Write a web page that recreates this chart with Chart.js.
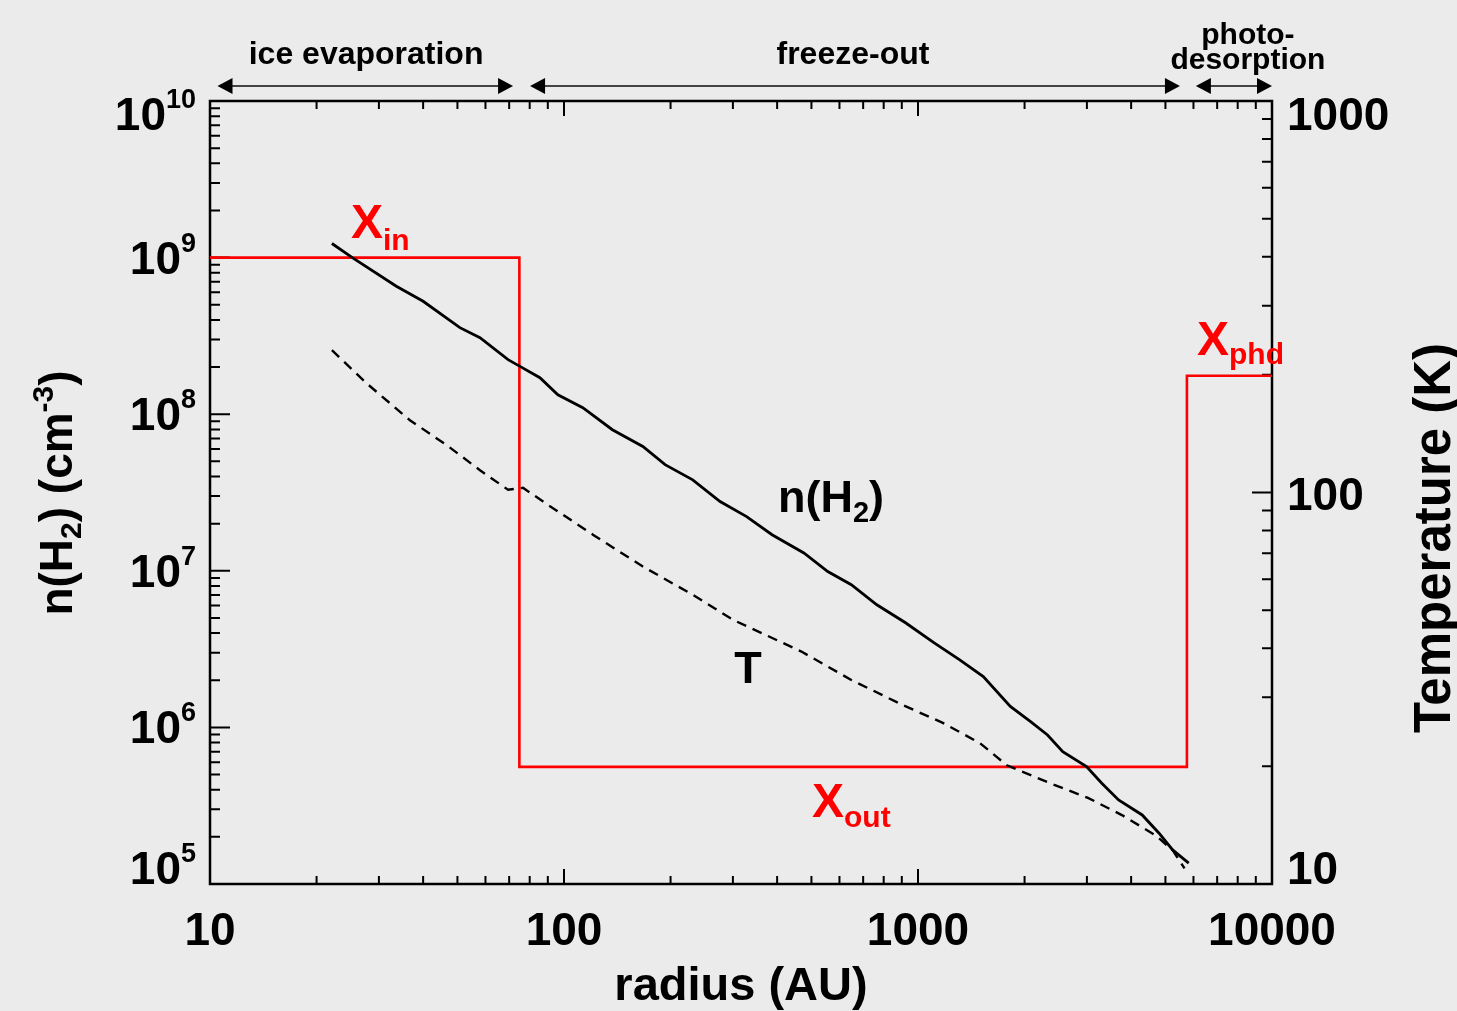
<!DOCTYPE html>
<html>
<head>
<meta charset="utf-8">
<title>n(H2) and temperature versus radius</title>
<script src="https://cdn.jsdelivr.net/npm/chart.js@4.4.1/dist/chart.umd.min.js"></script>
<style>
  html, body { margin: 0; padding: 0; background: #ebebec; }
  #wrap { width: 1457px; height: 1011px; position: relative; }
</style>
</head>
<body>
<div id="wrap"><canvas id="chart"></canvas></div>
<script>
// solid curve: radius (AU) -> n(H2) (cm^-3)
const densityRadius = [22.1, 25.3, 33.6, 40.0, 50.8, 57.9, 69.5, 75.1, 85.5, 96.1, 113, 137, 167, 193, 231,
  276, 328, 387, 476, 556, 648, 765, 922, 1111, 1312, 1529, 1823, 2080, 2322, 2564, 2992, 3305, 3686,
  4298, 4797, 5240, 5817];
const densityValues = [1.23e9, 9.96e8, 6.56e8, 5.26e8, 3.57e8, 3.08e8, 2.23e8, 2.02e8, 1.71e8, 1.33e8,
  1.10e8, 7.96e7, 6.22e7, 4.76e7, 3.81e7, 2.77e7, 2.22e7, 1.70e7, 1.30e7, 9.9e6, 8.15e6, 6.07e6, 4.66e6,
  3.47e6, 2.70e6, 2.11e6, 1.36e6, 1.09e6, 8.95e5, 7.0e5, 5.62e5, 4.40e5, 3.44e5, 2.76e5, 2.11e5, 1.65e5, 1.36e5];

// dashed curve: radius (AU) -> T (K)
const tempRadius = [22.1, 27.7, 36.7, 46.7, 57.9, 69.5, 76.6, 87.3, 121, 167, 231, 300, 467, 648, 902,
  1175, 1496, 1783, 2322, 3020, 3767, 4696, 5240, 5660];
const tempValues = [231, 190, 153, 132, 114, 101.6, 102.8, 94.8, 77.9, 64.7, 54.8, 47.3, 39.3, 33.2, 28.7,
  25.8, 22.9, 20.1, 18.2, 16.6, 15.0, 13.3, 12.2, 10.96];

// abundance jump profile (X_in, X_out, X_phd), drawn on the density axis
const abundanceRadius = [10, 74.8, 5750, 10000];
const abundanceLevel = [1e9, 1e9, 5.6e5, 1.76e8];

const radiusTicks = [10, 100, 1000, 10000];
const densityExponents = [5, 6, 7, 8, 9, 10];
const tempTicks = [10, 100, 1000];

// regions marked with arrows above the plot (radius in AU)
const regionNames = [['ice evaporation'], ['freeze-out'], ['photo-', 'desorption']];
const regionFrom = [10.5, 80.2, 6095];
const regionTo = [71.8, 5495, 10000];
const regionMid = [27.6, 655, 8550];

const FONT = '"Liberation Sans", Arial, Helvetica, sans-serif';

function pts(xs, ys) {
  return xs.map((x, i) => ({ x: x, y: ys[i] }));
}

// draws pieces of text [text, size, dy] one after the other
function richText(ctx, x, y, parts, align, color) {
  let w = 0;
  parts.forEach(p => {
    ctx.font = 'bold ' + p[1] + 'px ' + FONT;
    w += ctx.measureText(p[0]).width;
  });
  let cx = align === 'right' ? x - w : align === 'center' ? x - w / 2 : x;
  ctx.fillStyle = color;
  ctx.textAlign = 'left';
  ctx.textBaseline = 'alphabetic';
  parts.forEach(p => {
    ctx.font = 'bold ' + p[1] + 'px ' + FONT;
    ctx.fillText(p[0], cx, y + (p[2] || 0));
    cx += ctx.measureText(p[0]).width;
  });
}

function minorValues(min, max) {
  const out = [];
  for (let d = min; d < max; d *= 10) {
    for (let k = 1; k < 10; k++) out.push({ v: d * k, major: k === 1 });
  }
  out.push({ v: max, major: true });
  return out;
}

function arrowHead(ctx, x, y, dir) {
  ctx.beginPath();
  ctx.moveTo(x, y);
  ctx.lineTo(x - dir * 15, y - 8);
  ctx.lineTo(x - dir * 15, y + 8);
  ctx.closePath();
  ctx.fill();
}

const framePlugin = {
  id: 'frame',
  beforeDraw(chart) {
    const ctx = chart.ctx;
    ctx.save();
    ctx.fillStyle = '#ebebec';
    ctx.fillRect(0, 0, chart.width, chart.height);
    ctx.restore();
  },
  // box and inward ticks go under the curves
  beforeDatasetsDraw(chart) {
    const ctx = chart.ctx;
    const a = chart.chartArea;
    const sx = chart.scales.x, sy = chart.scales.y, st = chart.scales.y2;
    ctx.save();
    ctx.strokeStyle = '#000';
    ctx.lineWidth = 2.5;
    ctx.strokeRect(a.left, a.top, a.right - a.left, a.bottom - a.top);

    ctx.lineWidth = 2;
    ctx.beginPath();
    minorValues(10, 10000).forEach(t => {
      const px = sx.getPixelForValue(t.v);
      const len = t.major ? 15 : 8;
      ctx.moveTo(px, a.bottom); ctx.lineTo(px, a.bottom - len);
      ctx.moveTo(px, a.top); ctx.lineTo(px, a.top + len);
    });
    minorValues(1e5, 1e10).forEach(t => {
      const py = sy.getPixelForValue(t.v);
      const len = t.major ? 20 : 10;
      ctx.moveTo(a.left, py); ctx.lineTo(a.left + len, py);
    });
    minorValues(10, 1000).forEach(t => {
      const py = st.getPixelForValue(t.v);
      const len = t.major ? 20 : 10;
      ctx.moveTo(a.right, py); ctx.lineTo(a.right - len, py);
    });
    ctx.stroke();
    ctx.restore();
  },
  afterDraw(chart) {
    const ctx = chart.ctx;
    const a = chart.chartArea;
    const sx = chart.scales.x, sy = chart.scales.y, st = chart.scales.y2;
    ctx.save();

    // tick labels
    radiusTicks.forEach(v => {
      richText(ctx, sx.getPixelForValue(v), 945, [[String(v), 46]], 'center', '#000');
    });
    densityExponents.forEach(e => {
      const py = sy.getPixelForValue(Math.pow(10, e));
      const base = Math.min(Math.max(py + 16, a.top + 29), a.bottom);
      richText(ctx, 196, base, [['10', 46], [String(e), 27, -22]], 'right', '#000');
    });
    tempTicks.forEach(v => {
      const py = st.getPixelForValue(v);
      const base = Math.min(Math.max(py + 17, a.top + 29), a.bottom);
      richText(ctx, 1287, base, [[String(v), 46]], 'left', '#000');
    });

    // axis titles
    richText(ctx, (a.left + a.right) / 2, 1000, [['radius (AU)', 47]], 'center', '#000');
    ctx.save();
    ctx.translate(72, 493);
    ctx.rotate(-Math.PI / 2);
    richText(ctx, 0, 0, [['n(H', 46], ['2', 30, 9], [') (cm', 46], ['-3', 30, -19], [')', 46]], 'center', '#000');
    ctx.restore();
    ctx.save();
    ctx.translate(1450, 538);
    ctx.rotate(-Math.PI / 2);
    richText(ctx, 0, 0, [['Temperature (K)', 51]], 'center', '#000');
    ctx.restore();

    // region arrows above the plot
    const ay = 86;
    regionNames.forEach((name, i) => {
      const x0 = sx.getPixelForValue(regionFrom[i]);
      const x1 = sx.getPixelForValue(regionTo[i]);
      ctx.strokeStyle = '#444';
      ctx.lineWidth = 2;
      ctx.beginPath();
      ctx.moveTo(x0 + 10, ay); ctx.lineTo(x1 - 10, ay);
      ctx.stroke();
      ctx.fillStyle = '#000';
      arrowHead(ctx, x0, ay, -1);
      arrowHead(ctx, x1, ay, 1);
      const mx = sx.getPixelForValue(regionMid[i]);
      if (name.length === 1) {
        richText(ctx, mx, 64, [[name[0], 32]], 'center', '#000');
      } else {
        richText(ctx, mx, 44, [[name[0], 30]], 'center', '#000');
        richText(ctx, mx, 69, [[name[1], 30]], 'center', '#000');
      }
    });

    // curve labels
    const red = '#ff0000';
    richText(ctx, 351, 238, [['X', 48], ['in', 30, 12]], 'left', red);
    richText(ctx, 812, 817, [['X', 48], ['out', 30, 10]], 'left', red);
    richText(ctx, 1197, 355, [['X', 48], ['phd', 30, 9]], 'left', red);
    richText(ctx, 778, 512, [['n(H', 45], ['2', 29, 10], [')', 45]], 'left', '#000');
    richText(ctx, 748, 683, [['T', 45]], 'center', '#000');

    ctx.restore();
  }
};

new Chart(document.getElementById('chart'), {
  type: 'line',
  data: {
    datasets: [
      {
        label: 'n(H2)',
        data: pts(densityRadius, densityValues),
        yAxisID: 'y',
        borderColor: '#000',
        borderWidth: 2.8,
        pointRadius: 0,
        tension: 0
      },
      {
        label: 'T',
        data: pts(tempRadius, tempValues),
        yAxisID: 'y2',
        borderColor: '#000',
        borderWidth: 2.4,
        borderDash: [10, 7],
        pointRadius: 0,
        tension: 0
      },
      {
        label: 'X',
        data: pts(abundanceRadius, abundanceLevel),
        yAxisID: 'y',
        borderColor: '#ff0000',
        borderWidth: 2.6,
        stepped: 'after',
        pointRadius: 0
      }
    ]
  },
  options: {
    responsive: true,
    maintainAspectRatio: false,
    animation: false,
    layout: { padding: { top: 101, left: 0, right: 0, bottom: 0 } },
    plugins: { legend: { display: false }, tooltip: { enabled: false } },
    scales: {
      x: {
        type: 'logarithmic', min: 10, max: 10000, position: 'bottom',
        grid: { display: false }, border: { display: false }, ticks: { display: false },
        afterFit: s => { s.height = 127; }
      },
      y: {
        type: 'logarithmic', min: 1e5, max: 1e10, position: 'left',
        grid: { display: false }, border: { display: false }, ticks: { display: false },
        afterFit: s => { s.width = 210; }
      },
      y2: {
        type: 'logarithmic', min: 10, max: 1000, position: 'right',
        grid: { display: false }, border: { display: false }, ticks: { display: false },
        afterFit: s => { s.width = 185; }
      }
    }
  },
  plugins: [framePlugin]
});
</script>
</body>
</html>
